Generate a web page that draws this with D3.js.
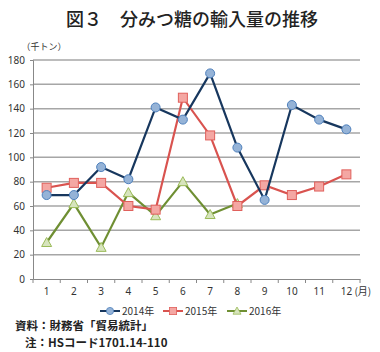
<!DOCTYPE html>
<html><head><meta charset="utf-8">
<script src="https://cdn.jsdelivr.net/npm/d3@7"></script>
<style>
body{margin:0;background:#fff;}
text{font-family:"Noto Sans CJK JP","Noto Sans",sans-serif;}
</style></head>
<body>
<svg id="c" width="380" height="352"></svg>
<script>
const months = ["1","2","3","4","5","6","7","8","9","10","11","12"];
const yTicks = [0,20,40,60,80,100,120,140,160,180];
const s2014 = [69,69,92,82,141,131,169,108,65,143,131,123];
const s2015 = [75,79,79,60,57,149,118,60,77,69,76,86];
const s2016 = [30,62,26,71,52,80,53,62];
const seriesNames = ["2014年","2015年","2016年"];

const svg = d3.select("#c");
const L = 33, R = 360, T = 60, B = 279;
const x = d3.scaleBand().domain(months).range([L, R]);
const y = d3.scaleLinear().domain([0,180]).range([B, T]);

svg.append("text").attr("x",192).attr("y",26).attr("text-anchor","middle")
  .attr("font-size",18).attr("font-weight",500).attr("fill","#222")
  .text("図３　分みつ糖の輸入量の推移");
svg.append("text").attr("x",44).attr("y",50).attr("text-anchor","middle")
  .attr("font-size",9).attr("fill","#333").text("（千トン）");

// gridlines
svg.append("g").selectAll("line").data(yTicks.filter(d=>d>0)).join("line")
  .attr("x1",L).attr("x2",R).attr("y1",d=>y(d)).attr("y2",d=>y(d))
  .attr("stroke","#a6a6a6").attr("stroke-width",1.5);

// y axis
const ya = svg.append("g").attr("transform",`translate(${L},0)`)
  .call(d3.axisLeft(y).tickValues(yTicks).tickSize(3).tickPadding(5));
ya.select(".domain").attr("stroke","#888");
ya.selectAll(".tick line").attr("stroke","#888");
ya.selectAll("text").attr("font-size",10).attr("fill","#333")
  .style("font-family","'Noto Sans','DejaVu Sans',sans-serif");

// x axis
const xa = svg.append("g").attr("transform",`translate(0,${B})`)
  .call(d3.axisBottom(x).tickSize(0).tickPadding(9));
xa.select(".domain").attr("stroke","#888");
xa.selectAll("text").attr("font-size",10).attr("fill","#333")
  .style("font-family","'Noto Sans','DejaVu Sans',sans-serif");
svg.append("g").selectAll("line").data(d3.range(months.length+1)).join("line")
  .attr("x1",i=>L+i*x.step()).attr("x2",i=>L+i*x.step())
  .attr("y1",B).attr("y2",B+4).attr("stroke","#888");
svg.append("text").attr("x",x("12")+x.bandwidth()/2+8).attr("y",B+16)
  .attr("font-size",10).attr("fill","#333").text("(月)");

const cx = i => x(months[i]) + x.bandwidth()/2;
const styles = [
  {data:s2014, line:"#17375e", fill:"#95b3d7", stroke:"#4f81bd", shape:"circle"},
  {data:s2015, line:"#d9534f", fill:"#f4a7a3", stroke:"#e0605c", shape:"square"},
  {data:s2016, line:"#6f8f33", fill:"#d7e4bd", stroke:"#9bbb59", shape:"triangle"}
];
const lineGen = d3.line().x((d,i)=>cx(i)).y(d=>y(d));
function marker(g, shape, fill, stroke){
  if(shape==="circle") g.append("circle").attr("r",4.5).attr("fill",fill).attr("stroke",stroke).attr("stroke-width",1);
  else if(shape==="square") g.append("rect").attr("x",-4.5).attr("y",-4.5).attr("width",9).attr("height",9).attr("fill",fill).attr("stroke",stroke).attr("stroke-width",1);
  else g.append("path").attr("d","M0,-5L5,4L-5,4Z").attr("fill",fill).attr("stroke",stroke).attr("stroke-width",1);
}
[2,1,0].forEach(k=>{
  const s = styles[k];
  svg.append("path").datum(s.data).attr("d",lineGen).attr("fill","none")
    .attr("stroke",s.line).attr("stroke-width",2.2);
  s.data.forEach((v,i)=>{
    const g = svg.append("g").attr("transform",`translate(${cx(i)},${y(v)})`);
    marker(g, s.shape, s.fill, s.stroke);
  });
});

// legend
const lx = [100,163,227];
styles.forEach((s,k)=>{
  const g = svg.append("g").attr("transform",`translate(${lx[k]},311)`);
  g.append("line").attr("x1",0).attr("x2",20).attr("stroke",s.line).attr("stroke-width",2);
  const m = g.append("g").attr("transform","translate(10,0) scale(0.8)");
  marker(m, s.shape, s.fill, s.stroke);
  g.append("text").attr("x",22).attr("y",4).attr("font-size",10).attr("fill","#333").text(seriesNames[k]);
});

svg.append("text").attr("x",15).attr("y",330).attr("font-size",11.5).attr("font-weight","bold").attr("fill","#222")
  .text("資料：財務省「貿易統計」");
svg.append("text").attr("x",25).attr("y",347).attr("font-size",11.5).attr("font-weight","bold").attr("fill","#222")
  .text("注：HSコード1701.14-110");
</script>
</body></html>
